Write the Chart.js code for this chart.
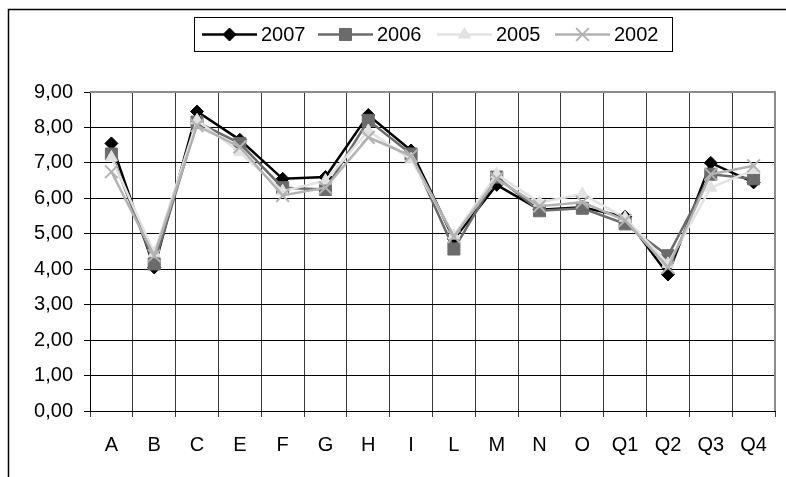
<!DOCTYPE html>
<html>
<head>
<meta charset="utf-8">
<script src="https://cdn.jsdelivr.net/npm/chart.js@4/dist/chart.umd.min.js"></script>
<style>
  html, body { margin: 0; padding: 0; background: #fff; }
  #wrap { width: 786px; height: 477px; }
</style>
</head>
<body>
<div id="wrap"><canvas id="chart" width="786" height="477"></canvas></div>
<script>
// Data
const categories = ['A', 'B', 'C', 'E', 'F', 'G', 'H', 'I', 'L', 'M', 'N', 'O', 'Q1', 'Q2', 'Q3', 'Q4'];
const years = ['2007', '2006', '2005', '2002'];
const v2007 = [7.55, 4.05, 8.45, 7.65, 6.55, 6.6, 8.35, 7.35, 4.85, 6.38, 5.68, 5.75, 5.48, 3.85, 7.0, 6.45];
const v2006 = [7.25, 4.15, 8.15, 7.55, 6.3, 6.25, 8.2, 7.25, 4.57, 6.6, 5.65, 5.72, 5.28, 4.38, 6.68, 6.55];
const v2005 = [7.15, 4.45, 8.2, 7.3, 6.2, 6.5, 7.9, 7.1, 4.95, 6.68, 5.88, 6.12, 5.45, 4.15, 6.3, 6.8];
const v2002 = [6.75, 4.38, 8.05, 7.45, 6.08, 6.3, 7.72, 7.2, 4.92, 6.55, 5.78, 5.89, 5.38, 4.05, 6.68, 6.92];
const yMin = 0, yMax = 9, yStep = 1;

const FONT = { family: '"Liberation Sans", Arial, sans-serif', size: 20 };
const fmtTick = v => v.toFixed(2).replace('.', ',');

// series look: [color, pointStyle, radius, borderWidth]
const styles = [
  ['#000000', 'rectRot', 6.5, 1],
  ['#6b6b6b', 'rect', 8.5, 1],
  ['#e2e2e2', 'triangle', 7, 1],
  ['#b2b2b2', 'crossRot', 9, 2]
];
const values = [v2007, v2006, v2005, v2002];

const datasets = years.map((y, i) => {
  const [color, style, r, bw] = styles[i];
  return {
    label: y, data: values[i], borderColor: color, backgroundColor: color,
    borderWidth: 2.5, tension: 0, fill: false,
    pointStyle: style, pointRadius: r, pointHoverRadius: r,
    pointBackgroundColor: color, pointBorderColor: color, pointBorderWidth: bw,
    order: years.length - i // later years drawn on top
  };
});

// outer frame, grey plot border, hand-drawn legend (line + marker samples)
const framePlugin = {
  id: 'frame',
  beforeDraw(chart) {
    const ctx = chart.ctx;
    ctx.save();
    ctx.strokeStyle = '#000'; ctx.lineWidth = 1.5;
    ctx.strokeRect(8.5, 9.5, 800, 500);
    ctx.restore();
  },
  beforeDatasetsDraw(chart) {
    const { ctx, chartArea: a } = chart;
    ctx.save();
    ctx.strokeStyle = '#8c8c8c'; ctx.lineWidth = 2;
    ctx.beginPath();
    ctx.moveTo(a.left, a.top); ctx.lineTo(a.right, a.top); ctx.lineTo(a.right, a.bottom);
    ctx.stroke();
    ctx.restore();
  },
  afterDraw(chart) {
    const ctx = chart.ctx;
    ctx.save();
    ctx.strokeStyle = '#000'; ctx.lineWidth = 1;
    ctx.strokeRect(194.5, 17.5, 478, 34);
    const starts = [202, 318, 437, 555];
    const cy = 34.5;
    chart.data.datasets.forEach((ds, i) => {
      const x0 = starts[i];
      ctx.strokeStyle = ds.borderColor; ctx.lineWidth = 2.5;
      ctx.beginPath(); ctx.moveTo(x0, cy); ctx.lineTo(x0 + 55, cy); ctx.stroke();
      ctx.fillStyle = ds.pointBackgroundColor; ctx.strokeStyle = ds.pointBorderColor;
      ctx.lineWidth = ds.pointBorderWidth;
      Chart.helpers.drawPoint(ctx, { pointStyle: ds.pointStyle, radius: ds.pointRadius, rotation: 0, borderWidth: ds.pointBorderWidth }, x0 + 27.5, cy);
      ctx.fillStyle = '#000';
      ctx.font = FONT.size + 'px ' + FONT.family;
      ctx.textBaseline = 'middle'; ctx.textAlign = 'left';
      ctx.fillText(ds.label, x0 + 59, cy + 1);
    });
    ctx.restore();
  }
};

new Chart(document.getElementById('chart'), {
  type: 'line',
  data: { labels: categories, datasets },
  plugins: [framePlugin],
  options: {
    responsive: false, animation: false, devicePixelRatio: 1,
    layout: { padding: { left: 8, top: 92, right: 9, bottom: 0 } },
    scales: {
      x: {
        offset: true,
        grid: { offset: true, color: '#3a3a3a', lineWidth: 1, tickLength: 6, drawTicks: true },
        border: { color: '#000', width: 1 },
        ticks: { color: '#000', font: FONT, padding: 16, maxRotation: 0, autoSkip: false },
        afterFit: s => { s.height = 66; }
      },
      y: {
        min: yMin, max: yMax,
        grid: { color: '#000', lineWidth: 1, tickLength: 6 },
        border: { color: '#000', width: 1 },
        ticks: { stepSize: yStep, color: '#000', font: FONT, padding: 11, callback: v => fmtTick(v) },
        afterFit: s => { s.width = 82; }
      }
    },
    plugins: { legend: { display: false }, tooltip: { enabled: false } }
  }
});
</script>
</body>
</html>
